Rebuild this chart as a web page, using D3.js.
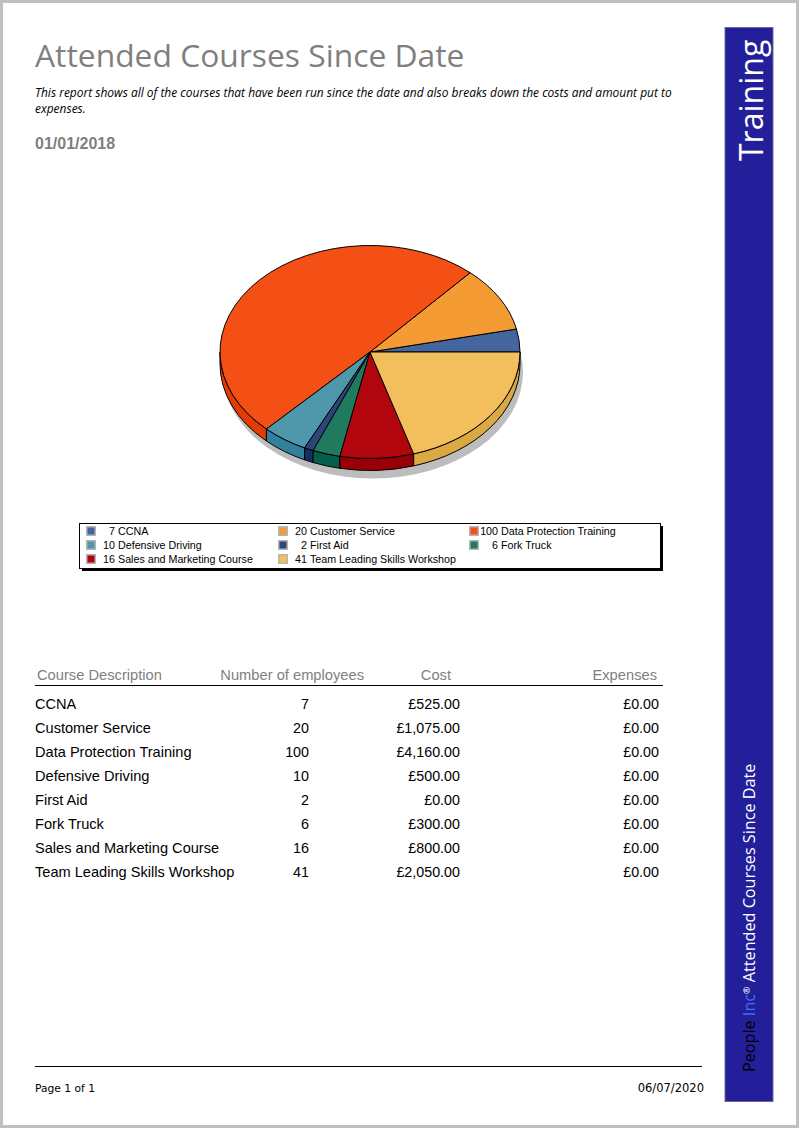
<!DOCTYPE html>
<html><head><meta charset="utf-8">
<script src="https://cdn.jsdelivr.net/npm/d3@7"></script>
<style>html,body{margin:0;padding:0;background:#fff}svg{display:block}</style>
</head><body><svg id="c" width="800" height="1129"></svg>
<script>
const courses = ["CCNA","Customer Service","Data Protection Training","Defensive Driving","First Aid","Fork Truck","Sales and Marketing Course","Team Leading Skills Workshop"];
const employees = [7,20,100,10,2,6,16,41];
const costs = ["£525.00","£1,075.00","£4,160.00","£500.00","£0.00","£300.00","£800.00","£2,050.00"];
const expenses = ["£0.00","£0.00","£0.00","£0.00","£0.00","£0.00","£0.00","£0.00"];
const topColors = ["#45659f","#f49c33","#f44f14","#4f97ab","#2f4577","#1f7a5f","#b2060e","#f3bf5d"];
const sideColors = ["#2f4f86","#d98a2a","#e03c04","#33809c","#13305f","#04604a","#980006","#dba944"];
const headers = ["Course Description","Number of employees","Cost","Expenses"];

const svg = d3.select("#c");
const sans = "'Liberation Sans',Arial,sans-serif", open = "'Open Sans',sans-serif", dv = "'DejaVu Sans',sans-serif";
const txt = (x,y,s,size,fill,o={}) => svg.append("text").attr("x",x).attr("y",y).text(s)
  .attr("font-family",o.f||sans).attr("font-size",size).attr("fill",fill)
  .attr("text-anchor",o.a||"start").attr("font-weight",o.w||null).attr("font-style",o.st||null);

// frame
svg.append("rect").attr("x",1.5).attr("y",1.5).attr("width",796).attr("height",1125)
  .attr("fill","#fff").attr("stroke","#c0c0c0").attr("stroke-width",3);

// header
txt(35,67,"Attended Courses Since Date",31.8,"#7f7f7f",{f:open});
txt(35,97,"This report shows all of the courses that have been run since the date and also breaks down the costs and amount put to",11.97,"#000",{f:open,st:"italic"});
txt(35,113,"expenses.",11.97,"#000",{f:open,st:"italic"});
txt(35,149,"01/01/2018",16,"#7f7f7f",{w:"bold"});

// side bar
svg.append("rect").attr("x",725).attr("y",27.5).attr("width",48).attr("height",1074)
  .attr("fill","#231f9a").attr("stroke","#6a6a9a").attr("stroke-width",1);
const vert = (y,x) => svg.append("text").attr("transform",`translate(${x},${y}) rotate(-90)`).attr("font-family",open);
vert(161,763).attr("font-size",32).attr("fill","#fff").text("Training");
const v = vert(1072,755).attr("font-size",16.2);
v.append("tspan").attr("fill","#000").text("People ");
v.append("tspan").attr("fill","#3a70f0").text("Inc");
v.append("tspan").attr("fill","#fff").attr("font-size",9).attr("dy",-5).text("®");
v.append("tspan").attr("fill","#fff").attr("dy",5).text(" Attended Courses Since Date");

// pie
const cx=370, cy=352, rx=150, ry=106.5, depth=12;
const pie = d3.pie().sort(null).startAngle(Math.PI/2).endAngle(Math.PI/2-2*Math.PI);
const arcs = pie(employees);
const px = a => cx + rx*Math.cos(a), py = a => cy + ry*Math.sin(a);
svg.append("defs").append("filter").attr("id","blur")
  .append("feGaussianBlur").attr("stdDeviation",0.6);
svg.append("ellipse").attr("cx",cx+3).attr("cy",cy+depth+8).attr("rx",rx).attr("ry",ry)
  .attr("fill","#bdbdbd").attr("filter","url(#blur)");

// side walls: the part of each slice on the front half of the ellipse
const walls = svg.append("g");
arcs.forEach((d,i) => {
  // screen angles, clockwise from east, in the range 0..2pi
  const a1 = 2*Math.PI - (Math.PI/2 - d.startAngle);
  const a0 = 2*Math.PI - (Math.PI/2 - d.endAngle);
  const lo = Math.min(a0,a1), hi = Math.max(a0,a1);
  const p = Math.max(lo,0), q = Math.min(hi,Math.PI);
  if (q - p < 1e-6) return;
  walls.append("path")
    .attr("d",`M${px(p)},${py(p)}A${rx},${ry} 0 0 1 ${px(q)},${py(q)}L${px(q)},${py(q)+depth}A${rx},${ry} 0 0 0 ${px(p)},${py(p)+depth}Z`)
    .attr("fill",sideColors[i]).attr("stroke","#000").attr("stroke-width",1);
});

// top surface
const arc = d3.arc().innerRadius(0).outerRadius(rx);
svg.append("g").attr("transform",`translate(${cx},${cy}) scale(1,${ry/rx})`)
  .selectAll("path").data(arcs).join("path")
  .attr("d",arc).attr("fill",(d,i)=>topColors[i])
  .attr("stroke","#000").attr("stroke-width",1).attr("vector-effect","non-scaling-stroke");

// legend
svg.append("rect").attr("x",82).attr("y",526).attr("width",581).attr("height",45).attr("fill","#000");
svg.append("rect").attr("x",79.5).attr("y",523.5).attr("width",581).attr("height",45).attr("fill","#fff").attr("stroke","#000");
const colX = d3.scaleOrdinal().domain([0,1,2]).range([86,278,469]);
const rowY = d3.scaleOrdinal().domain([0,1,2]).range([531,545,559]);
courses.forEach((c,i) => {
  const col=i%3,row=Math.floor(i/3),x=colX(col),y=rowY(row);
  svg.append("rect").attr("x",x+.75).attr("y",y-4.25).attr("width",8.5).attr("height",8.5)
    .attr("fill",topColors[i]).attr("stroke","#b5b5b5").attr("stroke-width",1.5);
  txt(x+29,y+4,employees[i],10.7,"#000",{a:"end"});
  txt(x+32,y+4,c,10.7,"#000");
});

// table
const hx=[37,364,451,657], ha=["start","end","end","end"];
headers.forEach((h,i)=>txt(hx[i],680,h,14.7,"#7f7f7f",{a:ha[i]}));
svg.append("line").attr("x1",35).attr("x2",663).attr("y1",685.5).attr("y2",685.5).attr("stroke","#000");
const rowScale = d3.scalePoint().domain(courses).range([709,877]);
courses.forEach((c,i)=>{
  const y=rowScale(c);
  txt(35,y,c,14.6,"#000");
  txt(309,y,employees[i],14.3,"#000",{a:"end"});
  txt(460,y,costs[i],14.3,"#000",{a:"end"});
  txt(659,y,expenses[i],14.3,"#000",{a:"end"});
});

// footer
svg.append("line").attr("x1",35).attr("x2",702).attr("y1",1066.5).attr("y2",1066.5).attr("stroke","#000");
txt(35,1092,"Page 1 of 1",10.7,"#000",{f:dv});
txt(704,1092,"06/07/2020",11.5,"#000",{f:dv,a:"end"});
</script></body></html>
